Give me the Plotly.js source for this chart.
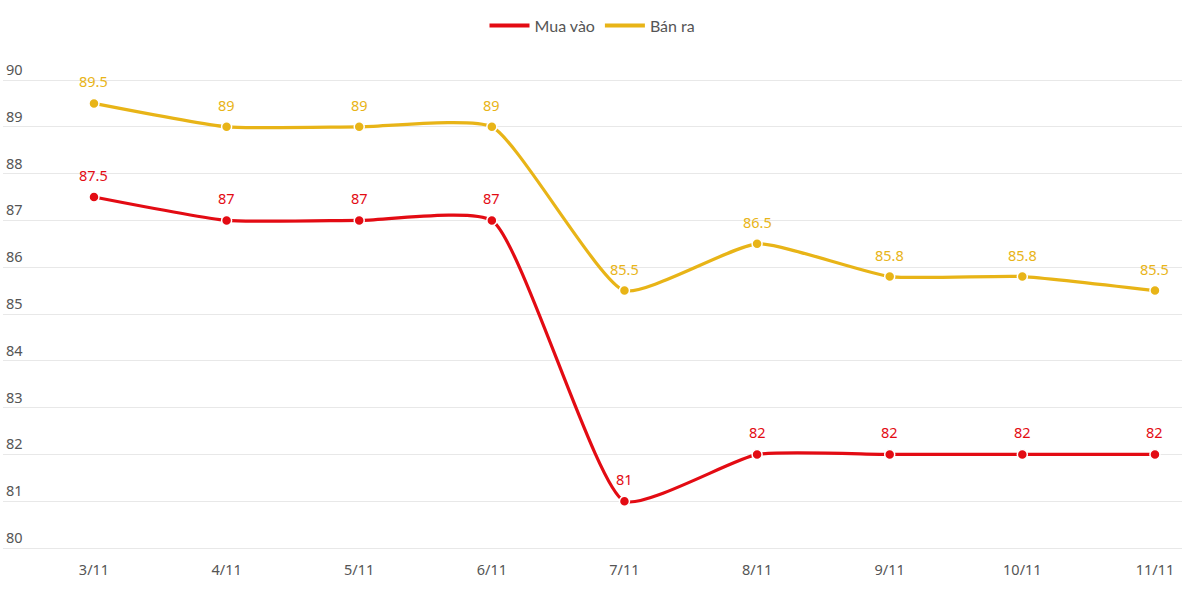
<!DOCTYPE html>
<html>
<head>
<meta charset="utf-8">
<script src="https://cdn.plot.ly/plotly-3.0.1.min.js"></script>
<style>html,body{margin:0;padding:0;background:#fff;}#chart{width:1182px;height:616px;}</style>
</head>
<body>
<div id="chart"></div>
<script>
const categories = ["3/11","4/11","5/11","6/11","7/11","8/11","9/11","10/11","11/11"];
const muaVao = [87.5, 87, 87, 87, 81, 82, 82, 82, 82];
const banRa = [89.5, 89, 89, 89, 85.5, 86.5, 85.8, 85.8, 85.5];
const yTicks = [80,81,82,83,84,85,86,87,88,89,90];

const red = "#e30b13";
const gold = "#e8b417";
const labelFont = "Noto Sans, Open Sans, sans-serif";

function series(name, y, color) {
  return {
    type: "scatter", mode: "lines+markers", name: name,
    x: categories, y: y, showlegend: false,
    line: {color: color, width: 3.2, shape: "spline", smoothing: 0.5},
    marker: {color: color, size: 10, line: {color: "#fff", width: 1.5}},
    cliponaxis: false,
    hoverinfo: "x+y"
  };
}
function legendItem(name, color) {
  return {type: "scatter", mode: "lines", name: name, x: [null], y: [null],
    line: {color: color, width: 4}, showlegend: true, hoverinfo: "skip"};
}

const data = [series("Mua vào", muaVao, red), series("Bán ra", banRa, gold),
  legendItem("Mua vào", red), legendItem("Bán ra", gold)];

const annotations = [];
[[muaVao, red], [banRa, gold]].forEach(([arr, color]) => {
  arr.forEach((v, i) => {
    annotations.push({x: categories[i], y: v, text: String(v), showarrow: false,
      yshift: 22, xanchor: "center", yanchor: "middle",
      font: {family: labelFont, size: 14.5, color: color}});
  });
});

const layout = {
  width: 1182, height: 616,
  paper_bgcolor: "#fff", plot_bgcolor: "#fff",
  margin: {l: 3, r: 0, t: 77, b: 65},
  showlegend: true,
  legend: {orientation: "h", x: 0.5, xanchor: "center", y: 0.986, yref: "container", yanchor: "top",
    font: {family: "Lato, Open Sans, sans-serif", size: 16, color: "#555"}, itemwidth: 40},
  annotations: annotations,
  xaxis: {
    type: "category", range: [-0.686, 8.204],
    showgrid: false, zeroline: false, showline: false,
    tickfont: {family: labelFont, size: 14.5, color: "#555"},
    ticks: "outside", ticklen: 6, tickcolor: "rgba(0,0,0,0)"
  },
  yaxis: {
    range: [79.936, 90.064], tickvals: yTicks,
    ticktext: yTicks.map(String),
    ticklabelposition: "inside top",
    ticklabeloverflow: "allow",
    showgrid: true, gridcolor: "#e8e8e8", gridwidth: 1,
    zeroline: false, showline: false,
    tickfont: {family: labelFont, size: 14.5, color: "#555"}
  }
};

Plotly.newPlot("chart", data, layout, {displayModeBar: false, staticPlot: true});
</script>
</body>
</html>
